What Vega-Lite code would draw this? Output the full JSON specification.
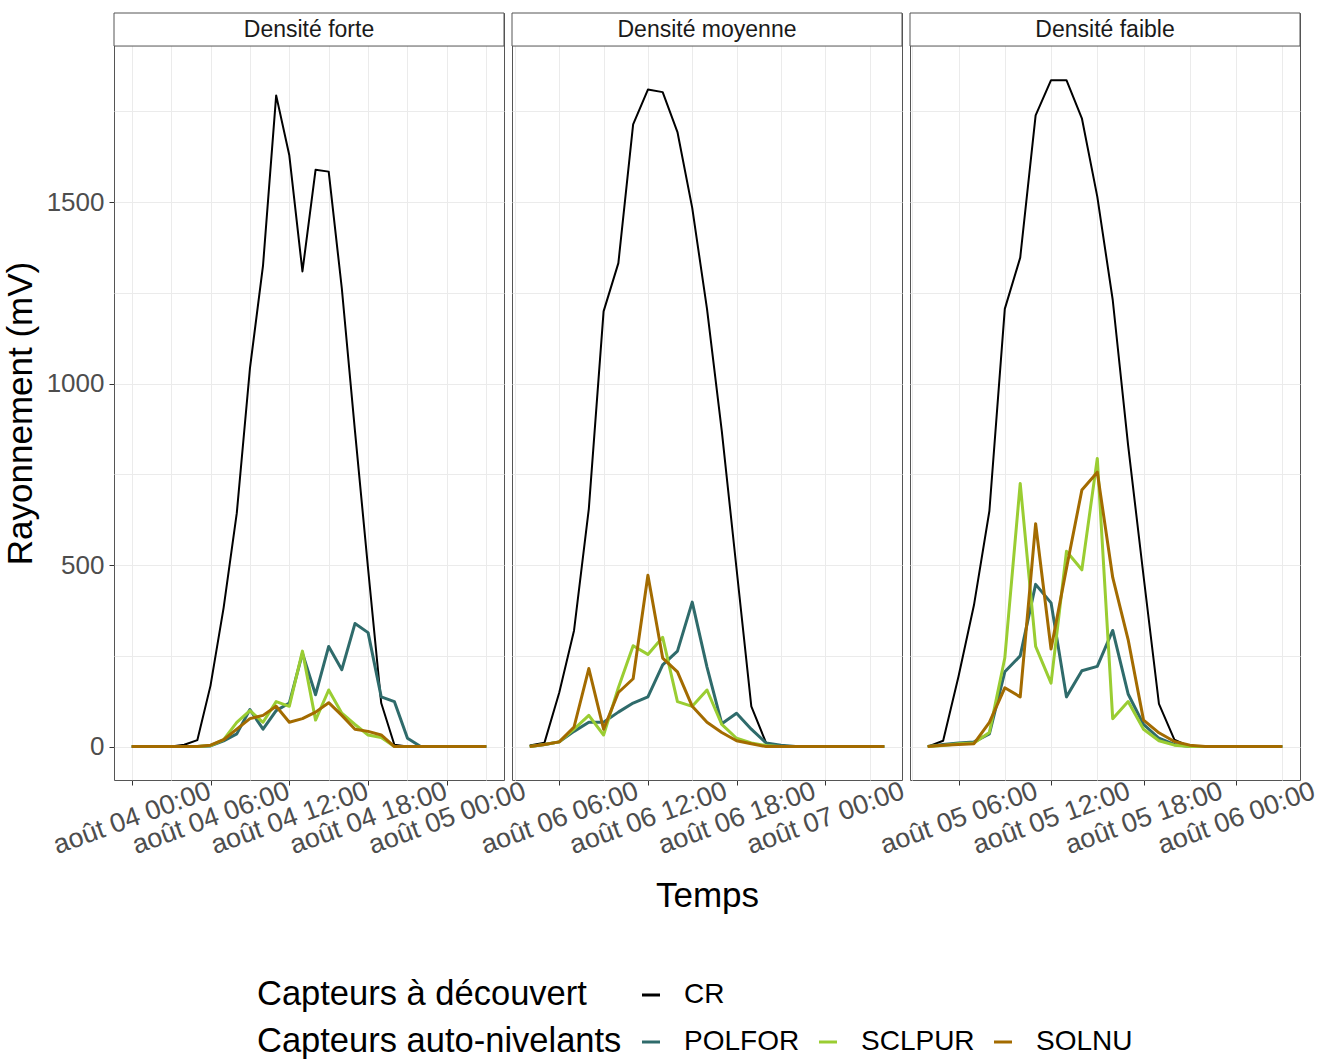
{
  "$schema": "https://vega.github.io/schema/vega-lite/v6.json",
  "background": "white",
  "padding": {"left": 2, "top": 12, "right": 10, "bottom": 4},
  "config": {
    "font": "Liberation Sans",
    "view": {"stroke": "#555555", "strokeWidth": 1},
    "legend": {
      "direction": "horizontal",
      "titleOrient": "left",
      "titleFontSize": 34.5,
      "titleFontWeight": "normal",
      "titleColor": "#000000",
      "titleLimit": 800,
      "labelFontSize": 28,
      "labelColor": "#000000",
      "symbolType": "stroke",
      "symbolStrokeWidth": 3,
      "symbolSize": 324,
      "labelOffset": 19,
      "columnPadding": 13
    }
  },
  "datasets": {
    "rad": [
      {"panel":"forte","time":"2022-08-04T00:00","capteur":"CR","value":0},
      {"panel":"forte","time":"2022-08-04T01:00","capteur":"CR","value":0},
      {"panel":"forte","time":"2022-08-04T02:00","capteur":"CR","value":0},
      {"panel":"forte","time":"2022-08-04T03:00","capteur":"CR","value":0},
      {"panel":"forte","time":"2022-08-04T04:00","capteur":"CR","value":5},
      {"panel":"forte","time":"2022-08-04T05:00","capteur":"CR","value":18},
      {"panel":"forte","time":"2022-08-04T06:00","capteur":"CR","value":168},
      {"panel":"forte","time":"2022-08-04T07:00","capteur":"CR","value":383},
      {"panel":"forte","time":"2022-08-04T08:00","capteur":"CR","value":643},
      {"panel":"forte","time":"2022-08-04T09:00","capteur":"CR","value":1041},
      {"panel":"forte","time":"2022-08-04T10:00","capteur":"CR","value":1326},
      {"panel":"forte","time":"2022-08-04T11:00","capteur":"CR","value":1794},
      {"panel":"forte","time":"2022-08-04T12:00","capteur":"CR","value":1629},
      {"panel":"forte","time":"2022-08-04T13:00","capteur":"CR","value":1309},
      {"panel":"forte","time":"2022-08-04T14:00","capteur":"CR","value":1589},
      {"panel":"forte","time":"2022-08-04T15:00","capteur":"CR","value":1584},
      {"panel":"forte","time":"2022-08-04T16:00","capteur":"CR","value":1262},
      {"panel":"forte","time":"2022-08-04T17:00","capteur":"CR","value":870},
      {"panel":"forte","time":"2022-08-04T18:00","capteur":"CR","value":490},
      {"panel":"forte","time":"2022-08-04T19:00","capteur":"CR","value":120},
      {"panel":"forte","time":"2022-08-04T20:00","capteur":"CR","value":5},
      {"panel":"forte","time":"2022-08-04T21:00","capteur":"CR","value":0},
      {"panel":"forte","time":"2022-08-04T22:00","capteur":"CR","value":0},
      {"panel":"forte","time":"2022-08-04T23:00","capteur":"CR","value":0},
      {"panel":"forte","time":"2022-08-05T00:00","capteur":"CR","value":0},
      {"panel":"forte","time":"2022-08-05T01:00","capteur":"CR","value":0},
      {"panel":"forte","time":"2022-08-05T02:00","capteur":"CR","value":0},
      {"panel":"forte","time":"2022-08-05T03:00","capteur":"CR","value":0},

      {"panel":"forte","time":"2022-08-04T00:00","capteur":"POLFOR","value":0},
      {"panel":"forte","time":"2022-08-04T01:00","capteur":"POLFOR","value":0},
      {"panel":"forte","time":"2022-08-04T02:00","capteur":"POLFOR","value":0},
      {"panel":"forte","time":"2022-08-04T03:00","capteur":"POLFOR","value":0},
      {"panel":"forte","time":"2022-08-04T04:00","capteur":"POLFOR","value":0},
      {"panel":"forte","time":"2022-08-04T05:00","capteur":"POLFOR","value":0},
      {"panel":"forte","time":"2022-08-04T06:00","capteur":"POLFOR","value":2},
      {"panel":"forte","time":"2022-08-04T07:00","capteur":"POLFOR","value":16},
      {"panel":"forte","time":"2022-08-04T08:00","capteur":"POLFOR","value":35},
      {"panel":"forte","time":"2022-08-04T09:00","capteur":"POLFOR","value":102},
      {"panel":"forte","time":"2022-08-04T10:00","capteur":"POLFOR","value":48},
      {"panel":"forte","time":"2022-08-04T11:00","capteur":"POLFOR","value":99},
      {"panel":"forte","time":"2022-08-04T12:00","capteur":"POLFOR","value":120},
      {"panel":"forte","time":"2022-08-04T13:00","capteur":"POLFOR","value":257},
      {"panel":"forte","time":"2022-08-04T14:00","capteur":"POLFOR","value":143},
      {"panel":"forte","time":"2022-08-04T15:00","capteur":"POLFOR","value":276},
      {"panel":"forte","time":"2022-08-04T16:00","capteur":"POLFOR","value":212},
      {"panel":"forte","time":"2022-08-04T17:00","capteur":"POLFOR","value":339},
      {"panel":"forte","time":"2022-08-04T18:00","capteur":"POLFOR","value":314},
      {"panel":"forte","time":"2022-08-04T19:00","capteur":"POLFOR","value":137},
      {"panel":"forte","time":"2022-08-04T20:00","capteur":"POLFOR","value":124},
      {"panel":"forte","time":"2022-08-04T21:00","capteur":"POLFOR","value":23},
      {"panel":"forte","time":"2022-08-04T22:00","capteur":"POLFOR","value":0},
      {"panel":"forte","time":"2022-08-04T23:00","capteur":"POLFOR","value":0},
      {"panel":"forte","time":"2022-08-05T00:00","capteur":"POLFOR","value":0},
      {"panel":"forte","time":"2022-08-05T01:00","capteur":"POLFOR","value":0},
      {"panel":"forte","time":"2022-08-05T02:00","capteur":"POLFOR","value":0},
      {"panel":"forte","time":"2022-08-05T03:00","capteur":"POLFOR","value":0},

      {"panel":"forte","time":"2022-08-04T00:00","capteur":"SCLPUR","value":0},
      {"panel":"forte","time":"2022-08-04T01:00","capteur":"SCLPUR","value":0},
      {"panel":"forte","time":"2022-08-04T02:00","capteur":"SCLPUR","value":0},
      {"panel":"forte","time":"2022-08-04T03:00","capteur":"SCLPUR","value":0},
      {"panel":"forte","time":"2022-08-04T04:00","capteur":"SCLPUR","value":0},
      {"panel":"forte","time":"2022-08-04T05:00","capteur":"SCLPUR","value":0},
      {"panel":"forte","time":"2022-08-04T06:00","capteur":"SCLPUR","value":3},
      {"panel":"forte","time":"2022-08-04T07:00","capteur":"SCLPUR","value":19},
      {"panel":"forte","time":"2022-08-04T08:00","capteur":"SCLPUR","value":67},
      {"panel":"forte","time":"2022-08-04T09:00","capteur":"SCLPUR","value":99},
      {"panel":"forte","time":"2022-08-04T10:00","capteur":"SCLPUR","value":67},
      {"panel":"forte","time":"2022-08-04T11:00","capteur":"SCLPUR","value":124},
      {"panel":"forte","time":"2022-08-04T12:00","capteur":"SCLPUR","value":111},
      {"panel":"forte","time":"2022-08-04T13:00","capteur":"SCLPUR","value":263},
      {"panel":"forte","time":"2022-08-04T14:00","capteur":"SCLPUR","value":73},
      {"panel":"forte","time":"2022-08-04T15:00","capteur":"SCLPUR","value":156},
      {"panel":"forte","time":"2022-08-04T16:00","capteur":"SCLPUR","value":92},
      {"panel":"forte","time":"2022-08-04T17:00","capteur":"SCLPUR","value":61},
      {"panel":"forte","time":"2022-08-04T18:00","capteur":"SCLPUR","value":32},
      {"panel":"forte","time":"2022-08-04T19:00","capteur":"SCLPUR","value":25},
      {"panel":"forte","time":"2022-08-04T20:00","capteur":"SCLPUR","value":0},
      {"panel":"forte","time":"2022-08-04T21:00","capteur":"SCLPUR","value":0},
      {"panel":"forte","time":"2022-08-04T22:00","capteur":"SCLPUR","value":0},
      {"panel":"forte","time":"2022-08-04T23:00","capteur":"SCLPUR","value":0},
      {"panel":"forte","time":"2022-08-05T00:00","capteur":"SCLPUR","value":0},
      {"panel":"forte","time":"2022-08-05T01:00","capteur":"SCLPUR","value":0},
      {"panel":"forte","time":"2022-08-05T02:00","capteur":"SCLPUR","value":0},
      {"panel":"forte","time":"2022-08-05T03:00","capteur":"SCLPUR","value":0},

      {"panel":"forte","time":"2022-08-04T00:00","capteur":"SOLNU","value":0},
      {"panel":"forte","time":"2022-08-04T01:00","capteur":"SOLNU","value":0},
      {"panel":"forte","time":"2022-08-04T02:00","capteur":"SOLNU","value":0},
      {"panel":"forte","time":"2022-08-04T03:00","capteur":"SOLNU","value":0},
      {"panel":"forte","time":"2022-08-04T04:00","capteur":"SOLNU","value":0},
      {"panel":"forte","time":"2022-08-04T05:00","capteur":"SOLNU","value":0},
      {"panel":"forte","time":"2022-08-04T06:00","capteur":"SOLNU","value":4},
      {"panel":"forte","time":"2022-08-04T07:00","capteur":"SOLNU","value":19},
      {"panel":"forte","time":"2022-08-04T08:00","capteur":"SOLNU","value":48},
      {"panel":"forte","time":"2022-08-04T09:00","capteur":"SOLNU","value":77},
      {"panel":"forte","time":"2022-08-04T10:00","capteur":"SOLNU","value":86},
      {"panel":"forte","time":"2022-08-04T11:00","capteur":"SOLNU","value":111},
      {"panel":"forte","time":"2022-08-04T12:00","capteur":"SOLNU","value":67},
      {"panel":"forte","time":"2022-08-04T13:00","capteur":"SOLNU","value":77},
      {"panel":"forte","time":"2022-08-04T14:00","capteur":"SOLNU","value":95},
      {"panel":"forte","time":"2022-08-04T15:00","capteur":"SOLNU","value":121},
      {"panel":"forte","time":"2022-08-04T16:00","capteur":"SOLNU","value":86},
      {"panel":"forte","time":"2022-08-04T17:00","capteur":"SOLNU","value":48},
      {"panel":"forte","time":"2022-08-04T18:00","capteur":"SOLNU","value":42},
      {"panel":"forte","time":"2022-08-04T19:00","capteur":"SOLNU","value":32},
      {"panel":"forte","time":"2022-08-04T20:00","capteur":"SOLNU","value":0},
      {"panel":"forte","time":"2022-08-04T21:00","capteur":"SOLNU","value":0},
      {"panel":"forte","time":"2022-08-04T22:00","capteur":"SOLNU","value":0},
      {"panel":"forte","time":"2022-08-04T23:00","capteur":"SOLNU","value":0},
      {"panel":"forte","time":"2022-08-05T00:00","capteur":"SOLNU","value":0},
      {"panel":"forte","time":"2022-08-05T01:00","capteur":"SOLNU","value":0},
      {"panel":"forte","time":"2022-08-05T02:00","capteur":"SOLNU","value":0},
      {"panel":"forte","time":"2022-08-05T03:00","capteur":"SOLNU","value":0},

      {"panel":"moyenne","time":"2022-08-06T04:00","capteur":"CR","value":3},
      {"panel":"moyenne","time":"2022-08-06T05:00","capteur":"CR","value":11},
      {"panel":"moyenne","time":"2022-08-06T06:00","capteur":"CR","value":149},
      {"panel":"moyenne","time":"2022-08-06T07:00","capteur":"CR","value":320},
      {"panel":"moyenne","time":"2022-08-06T08:00","capteur":"CR","value":655},
      {"panel":"moyenne","time":"2022-08-06T09:00","capteur":"CR","value":1199},
      {"panel":"moyenne","time":"2022-08-06T10:00","capteur":"CR","value":1332},
      {"panel":"moyenne","time":"2022-08-06T11:00","capteur":"CR","value":1714},
      {"panel":"moyenne","time":"2022-08-06T12:00","capteur":"CR","value":1810},
      {"panel":"moyenne","time":"2022-08-06T13:00","capteur":"CR","value":1803},
      {"panel":"moyenne","time":"2022-08-06T14:00","capteur":"CR","value":1693},
      {"panel":"moyenne","time":"2022-08-06T15:00","capteur":"CR","value":1484},
      {"panel":"moyenne","time":"2022-08-06T16:00","capteur":"CR","value":1206},
      {"panel":"moyenne","time":"2022-08-06T17:00","capteur":"CR","value":870},
      {"panel":"moyenne","time":"2022-08-06T18:00","capteur":"CR","value":490},
      {"panel":"moyenne","time":"2022-08-06T19:00","capteur":"CR","value":111},
      {"panel":"moyenne","time":"2022-08-06T20:00","capteur":"CR","value":10},
      {"panel":"moyenne","time":"2022-08-06T21:00","capteur":"CR","value":0},
      {"panel":"moyenne","time":"2022-08-06T22:00","capteur":"CR","value":0},
      {"panel":"moyenne","time":"2022-08-06T23:00","capteur":"CR","value":0},
      {"panel":"moyenne","time":"2022-08-07T00:00","capteur":"CR","value":0},
      {"panel":"moyenne","time":"2022-08-07T01:00","capteur":"CR","value":0},
      {"panel":"moyenne","time":"2022-08-07T02:00","capteur":"CR","value":0},
      {"panel":"moyenne","time":"2022-08-07T03:00","capteur":"CR","value":0},
      {"panel":"moyenne","time":"2022-08-07T04:00","capteur":"CR","value":0},

      {"panel":"moyenne","time":"2022-08-06T04:00","capteur":"POLFOR","value":0},
      {"panel":"moyenne","time":"2022-08-06T05:00","capteur":"POLFOR","value":6},
      {"panel":"moyenne","time":"2022-08-06T06:00","capteur":"POLFOR","value":13},
      {"panel":"moyenne","time":"2022-08-06T07:00","capteur":"POLFOR","value":42},
      {"panel":"moyenne","time":"2022-08-06T08:00","capteur":"POLFOR","value":67},
      {"panel":"moyenne","time":"2022-08-06T09:00","capteur":"POLFOR","value":67},
      {"panel":"moyenne","time":"2022-08-06T10:00","capteur":"POLFOR","value":95},
      {"panel":"moyenne","time":"2022-08-06T11:00","capteur":"POLFOR","value":120},
      {"panel":"moyenne","time":"2022-08-06T12:00","capteur":"POLFOR","value":137},
      {"panel":"moyenne","time":"2022-08-06T13:00","capteur":"POLFOR","value":225},
      {"panel":"moyenne","time":"2022-08-06T14:00","capteur":"POLFOR","value":263},
      {"panel":"moyenne","time":"2022-08-06T15:00","capteur":"POLFOR","value":398},
      {"panel":"moyenne","time":"2022-08-06T16:00","capteur":"POLFOR","value":219},
      {"panel":"moyenne","time":"2022-08-06T17:00","capteur":"POLFOR","value":63},
      {"panel":"moyenne","time":"2022-08-06T18:00","capteur":"POLFOR","value":92},
      {"panel":"moyenne","time":"2022-08-06T19:00","capteur":"POLFOR","value":48},
      {"panel":"moyenne","time":"2022-08-06T20:00","capteur":"POLFOR","value":10},
      {"panel":"moyenne","time":"2022-08-06T21:00","capteur":"POLFOR","value":4},
      {"panel":"moyenne","time":"2022-08-06T22:00","capteur":"POLFOR","value":0},
      {"panel":"moyenne","time":"2022-08-06T23:00","capteur":"POLFOR","value":0},
      {"panel":"moyenne","time":"2022-08-07T00:00","capteur":"POLFOR","value":0},
      {"panel":"moyenne","time":"2022-08-07T01:00","capteur":"POLFOR","value":0},
      {"panel":"moyenne","time":"2022-08-07T02:00","capteur":"POLFOR","value":0},
      {"panel":"moyenne","time":"2022-08-07T03:00","capteur":"POLFOR","value":0},
      {"panel":"moyenne","time":"2022-08-07T04:00","capteur":"POLFOR","value":0},

      {"panel":"moyenne","time":"2022-08-06T04:00","capteur":"SCLPUR","value":0},
      {"panel":"moyenne","time":"2022-08-06T05:00","capteur":"SCLPUR","value":6},
      {"panel":"moyenne","time":"2022-08-06T06:00","capteur":"SCLPUR","value":13},
      {"panel":"moyenne","time":"2022-08-06T07:00","capteur":"SCLPUR","value":48},
      {"panel":"moyenne","time":"2022-08-06T08:00","capteur":"SCLPUR","value":86},
      {"panel":"moyenne","time":"2022-08-06T09:00","capteur":"SCLPUR","value":32},
      {"panel":"moyenne","time":"2022-08-06T10:00","capteur":"SCLPUR","value":162},
      {"panel":"moyenne","time":"2022-08-06T11:00","capteur":"SCLPUR","value":278},
      {"panel":"moyenne","time":"2022-08-06T12:00","capteur":"SCLPUR","value":254},
      {"panel":"moyenne","time":"2022-08-06T13:00","capteur":"SCLPUR","value":301},
      {"panel":"moyenne","time":"2022-08-06T14:00","capteur":"SCLPUR","value":124},
      {"panel":"moyenne","time":"2022-08-06T15:00","capteur":"SCLPUR","value":111},
      {"panel":"moyenne","time":"2022-08-06T16:00","capteur":"SCLPUR","value":156},
      {"panel":"moyenne","time":"2022-08-06T17:00","capteur":"SCLPUR","value":61},
      {"panel":"moyenne","time":"2022-08-06T18:00","capteur":"SCLPUR","value":23},
      {"panel":"moyenne","time":"2022-08-06T19:00","capteur":"SCLPUR","value":10},
      {"panel":"moyenne","time":"2022-08-06T20:00","capteur":"SCLPUR","value":3},
      {"panel":"moyenne","time":"2022-08-06T21:00","capteur":"SCLPUR","value":0},
      {"panel":"moyenne","time":"2022-08-06T22:00","capteur":"SCLPUR","value":0},
      {"panel":"moyenne","time":"2022-08-06T23:00","capteur":"SCLPUR","value":0},
      {"panel":"moyenne","time":"2022-08-07T00:00","capteur":"SCLPUR","value":0},
      {"panel":"moyenne","time":"2022-08-07T01:00","capteur":"SCLPUR","value":0},
      {"panel":"moyenne","time":"2022-08-07T02:00","capteur":"SCLPUR","value":0},
      {"panel":"moyenne","time":"2022-08-07T03:00","capteur":"SCLPUR","value":0},
      {"panel":"moyenne","time":"2022-08-07T04:00","capteur":"SCLPUR","value":0},

      {"panel":"moyenne","time":"2022-08-06T04:00","capteur":"SOLNU","value":0},
      {"panel":"moyenne","time":"2022-08-06T05:00","capteur":"SOLNU","value":6},
      {"panel":"moyenne","time":"2022-08-06T06:00","capteur":"SOLNU","value":13},
      {"panel":"moyenne","time":"2022-08-06T07:00","capteur":"SOLNU","value":54},
      {"panel":"moyenne","time":"2022-08-06T08:00","capteur":"SOLNU","value":215},
      {"panel":"moyenne","time":"2022-08-06T09:00","capteur":"SOLNU","value":48},
      {"panel":"moyenne","time":"2022-08-06T10:00","capteur":"SOLNU","value":149},
      {"panel":"moyenne","time":"2022-08-06T11:00","capteur":"SOLNU","value":187},
      {"panel":"moyenne","time":"2022-08-06T12:00","capteur":"SOLNU","value":472},
      {"panel":"moyenne","time":"2022-08-06T13:00","capteur":"SOLNU","value":244},
      {"panel":"moyenne","time":"2022-08-06T14:00","capteur":"SOLNU","value":206},
      {"panel":"moyenne","time":"2022-08-06T15:00","capteur":"SOLNU","value":111},
      {"panel":"moyenne","time":"2022-08-06T16:00","capteur":"SOLNU","value":67},
      {"panel":"moyenne","time":"2022-08-06T17:00","capteur":"SOLNU","value":39},
      {"panel":"moyenne","time":"2022-08-06T18:00","capteur":"SOLNU","value":16},
      {"panel":"moyenne","time":"2022-08-06T19:00","capteur":"SOLNU","value":8},
      {"panel":"moyenne","time":"2022-08-06T20:00","capteur":"SOLNU","value":0},
      {"panel":"moyenne","time":"2022-08-06T21:00","capteur":"SOLNU","value":0},
      {"panel":"moyenne","time":"2022-08-06T22:00","capteur":"SOLNU","value":0},
      {"panel":"moyenne","time":"2022-08-06T23:00","capteur":"SOLNU","value":0},
      {"panel":"moyenne","time":"2022-08-07T00:00","capteur":"SOLNU","value":0},
      {"panel":"moyenne","time":"2022-08-07T01:00","capteur":"SOLNU","value":0},
      {"panel":"moyenne","time":"2022-08-07T02:00","capteur":"SOLNU","value":0},
      {"panel":"moyenne","time":"2022-08-07T03:00","capteur":"SOLNU","value":0},
      {"panel":"moyenne","time":"2022-08-07T04:00","capteur":"SOLNU","value":0},

      {"panel":"faible","time":"2022-08-05T04:00","capteur":"CR","value":0},
      {"panel":"faible","time":"2022-08-05T05:00","capteur":"CR","value":16},
      {"panel":"faible","time":"2022-08-05T06:00","capteur":"CR","value":194},
      {"panel":"faible","time":"2022-08-05T07:00","capteur":"CR","value":390},
      {"panel":"faible","time":"2022-08-05T08:00","capteur":"CR","value":649},
      {"panel":"faible","time":"2022-08-05T09:00","capteur":"CR","value":1206},
      {"panel":"faible","time":"2022-08-05T10:00","capteur":"CR","value":1347},
      {"panel":"faible","time":"2022-08-05T11:00","capteur":"CR","value":1739},
      {"panel":"faible","time":"2022-08-05T12:00","capteur":"CR","value":1836},
      {"panel":"faible","time":"2022-08-05T13:00","capteur":"CR","value":1836},
      {"panel":"faible","time":"2022-08-05T14:00","capteur":"CR","value":1731},
      {"panel":"faible","time":"2022-08-05T15:00","capteur":"CR","value":1515},
      {"panel":"faible","time":"2022-08-05T16:00","capteur":"CR","value":1231},
      {"panel":"faible","time":"2022-08-05T17:00","capteur":"CR","value":830},
      {"panel":"faible","time":"2022-08-05T18:00","capteur":"CR","value":470},
      {"panel":"faible","time":"2022-08-05T19:00","capteur":"CR","value":118},
      {"panel":"faible","time":"2022-08-05T20:00","capteur":"CR","value":19},
      {"panel":"faible","time":"2022-08-05T21:00","capteur":"CR","value":0},
      {"panel":"faible","time":"2022-08-05T22:00","capteur":"CR","value":0},
      {"panel":"faible","time":"2022-08-05T23:00","capteur":"CR","value":0},
      {"panel":"faible","time":"2022-08-06T00:00","capteur":"CR","value":0},
      {"panel":"faible","time":"2022-08-06T01:00","capteur":"CR","value":0},
      {"panel":"faible","time":"2022-08-06T02:00","capteur":"CR","value":0},
      {"panel":"faible","time":"2022-08-06T03:00","capteur":"CR","value":0},

      {"panel":"faible","time":"2022-08-05T04:00","capteur":"POLFOR","value":0},
      {"panel":"faible","time":"2022-08-05T05:00","capteur":"POLFOR","value":6},
      {"panel":"faible","time":"2022-08-05T06:00","capteur":"POLFOR","value":10},
      {"panel":"faible","time":"2022-08-05T07:00","capteur":"POLFOR","value":13},
      {"panel":"faible","time":"2022-08-05T08:00","capteur":"POLFOR","value":35},
      {"panel":"faible","time":"2022-08-05T09:00","capteur":"POLFOR","value":206},
      {"panel":"faible","time":"2022-08-05T10:00","capteur":"POLFOR","value":250},
      {"panel":"faible","time":"2022-08-05T11:00","capteur":"POLFOR","value":447},
      {"panel":"faible","time":"2022-08-05T12:00","capteur":"POLFOR","value":396},
      {"panel":"faible","time":"2022-08-05T13:00","capteur":"POLFOR","value":137},
      {"panel":"faible","time":"2022-08-05T14:00","capteur":"POLFOR","value":209},
      {"panel":"faible","time":"2022-08-05T15:00","capteur":"POLFOR","value":221},
      {"panel":"faible","time":"2022-08-05T16:00","capteur":"POLFOR","value":320},
      {"panel":"faible","time":"2022-08-05T17:00","capteur":"POLFOR","value":145},
      {"panel":"faible","time":"2022-08-05T18:00","capteur":"POLFOR","value":61},
      {"panel":"faible","time":"2022-08-05T19:00","capteur":"POLFOR","value":23},
      {"panel":"faible","time":"2022-08-05T20:00","capteur":"POLFOR","value":6},
      {"panel":"faible","time":"2022-08-05T21:00","capteur":"POLFOR","value":0},
      {"panel":"faible","time":"2022-08-05T22:00","capteur":"POLFOR","value":0},
      {"panel":"faible","time":"2022-08-05T23:00","capteur":"POLFOR","value":0},
      {"panel":"faible","time":"2022-08-06T00:00","capteur":"POLFOR","value":0},
      {"panel":"faible","time":"2022-08-06T01:00","capteur":"POLFOR","value":0},
      {"panel":"faible","time":"2022-08-06T02:00","capteur":"POLFOR","value":0},
      {"panel":"faible","time":"2022-08-06T03:00","capteur":"POLFOR","value":0},

      {"panel":"faible","time":"2022-08-05T04:00","capteur":"SCLPUR","value":0},
      {"panel":"faible","time":"2022-08-05T05:00","capteur":"SCLPUR","value":3},
      {"panel":"faible","time":"2022-08-05T06:00","capteur":"SCLPUR","value":8},
      {"panel":"faible","time":"2022-08-05T07:00","capteur":"SCLPUR","value":10},
      {"panel":"faible","time":"2022-08-05T08:00","capteur":"SCLPUR","value":39},
      {"panel":"faible","time":"2022-08-05T09:00","capteur":"SCLPUR","value":244},
      {"panel":"faible","time":"2022-08-05T10:00","capteur":"SCLPUR","value":725},
      {"panel":"faible","time":"2022-08-05T11:00","capteur":"SCLPUR","value":276},
      {"panel":"faible","time":"2022-08-05T12:00","capteur":"SCLPUR","value":175},
      {"panel":"faible","time":"2022-08-05T13:00","capteur":"SCLPUR","value":538},
      {"panel":"faible","time":"2022-08-05T14:00","capteur":"SCLPUR","value":487},
      {"panel":"faible","time":"2022-08-05T15:00","capteur":"SCLPUR","value":794},
      {"panel":"faible","time":"2022-08-05T16:00","capteur":"SCLPUR","value":77},
      {"panel":"faible","time":"2022-08-05T17:00","capteur":"SCLPUR","value":124},
      {"panel":"faible","time":"2022-08-05T18:00","capteur":"SCLPUR","value":48},
      {"panel":"faible","time":"2022-08-05T19:00","capteur":"SCLPUR","value":16},
      {"panel":"faible","time":"2022-08-05T20:00","capteur":"SCLPUR","value":4},
      {"panel":"faible","time":"2022-08-05T21:00","capteur":"SCLPUR","value":0},
      {"panel":"faible","time":"2022-08-05T22:00","capteur":"SCLPUR","value":0},
      {"panel":"faible","time":"2022-08-05T23:00","capteur":"SCLPUR","value":0},
      {"panel":"faible","time":"2022-08-06T00:00","capteur":"SCLPUR","value":0},
      {"panel":"faible","time":"2022-08-06T01:00","capteur":"SCLPUR","value":0},
      {"panel":"faible","time":"2022-08-06T02:00","capteur":"SCLPUR","value":0},
      {"panel":"faible","time":"2022-08-06T03:00","capteur":"SCLPUR","value":0},

      {"panel":"faible","time":"2022-08-05T04:00","capteur":"SOLNU","value":0},
      {"panel":"faible","time":"2022-08-05T05:00","capteur":"SOLNU","value":4},
      {"panel":"faible","time":"2022-08-05T06:00","capteur":"SOLNU","value":6},
      {"panel":"faible","time":"2022-08-05T07:00","capteur":"SOLNU","value":8},
      {"panel":"faible","time":"2022-08-05T08:00","capteur":"SOLNU","value":67},
      {"panel":"faible","time":"2022-08-05T09:00","capteur":"SOLNU","value":162},
      {"panel":"faible","time":"2022-08-05T10:00","capteur":"SOLNU","value":137},
      {"panel":"faible","time":"2022-08-05T11:00","capteur":"SOLNU","value":614},
      {"panel":"faible","time":"2022-08-05T12:00","capteur":"SOLNU","value":269},
      {"panel":"faible","time":"2022-08-05T13:00","capteur":"SOLNU","value":491},
      {"panel":"faible","time":"2022-08-05T14:00","capteur":"SOLNU","value":707},
      {"panel":"faible","time":"2022-08-05T15:00","capteur":"SOLNU","value":756},
      {"panel":"faible","time":"2022-08-05T16:00","capteur":"SOLNU","value":466},
      {"panel":"faible","time":"2022-08-05T17:00","capteur":"SOLNU","value":295},
      {"panel":"faible","time":"2022-08-05T18:00","capteur":"SOLNU","value":73},
      {"panel":"faible","time":"2022-08-05T19:00","capteur":"SOLNU","value":38},
      {"panel":"faible","time":"2022-08-05T20:00","capteur":"SOLNU","value":14},
      {"panel":"faible","time":"2022-08-05T21:00","capteur":"SOLNU","value":4},
      {"panel":"faible","time":"2022-08-05T22:00","capteur":"SOLNU","value":0},
      {"panel":"faible","time":"2022-08-05T23:00","capteur":"SOLNU","value":0},
      {"panel":"faible","time":"2022-08-06T00:00","capteur":"SOLNU","value":0},
      {"panel":"faible","time":"2022-08-06T01:00","capteur":"SOLNU","value":0},
      {"panel":"faible","time":"2022-08-06T02:00","capteur":"SOLNU","value":0},
      {"panel":"faible","time":"2022-08-06T03:00","capteur":"SOLNU","value":0}
    ]
  },
  "bounds": "flush",
  "spacing": 8,
  "hconcat": [
    {
      "width": 390, "height": 767,
      "layer": [
        {"data": {"name": "rad"},
         "transform": [{"filter": "datum.panel == 'forte' && datum.capteur == 'CR'"}],
         "mark": {"type": "line", "strokeWidth": 2, "strokeJoin": "round"},
         "encoding": {
           "x": {"field": "time", "type": "temporal",
             "scale": {"domain": [
               {"year": 2022, "month": 8, "date": 3, "hours": 22, "minutes": 39},
               {"year": 2022, "month": 8, "date": 5, "hours": 4, "minutes": 21}]},
             "axis": {"title": null,
               "values": [
                 {"year": 2022, "month": 8, "date": 4, "hours": 0},
                 {"year": 2022, "month": 8, "date": 4, "hours": 3},
                 {"year": 2022, "month": 8, "date": 4, "hours": 6},
                 {"year": 2022, "month": 8, "date": 4, "hours": 9},
                 {"year": 2022, "month": 8, "date": 4, "hours": 12},
                 {"year": 2022, "month": 8, "date": 4, "hours": 15},
                 {"year": 2022, "month": 8, "date": 4, "hours": 18},
                 {"year": 2022, "month": 8, "date": 4, "hours": 21},
                 {"year": 2022, "month": 8, "date": 5, "hours": 0},
                 {"year": 2022, "month": 8, "date": 5, "hours": 3}],
               "labelExpr": "hours(datum.value) % 6 == 0 ? 'août ' + timeFormat(datum.value, '%d %H:%M') : ''",
               "labelAngle": -20, "labelAlign": "center", "labelBaseline": "middle", "labelPadding": 33,
               "labelFontSize": 27, "labelColor": "#4D4D4D", "labelOverlap": false, "labelFlush": false, "labelBound": false,
               "domain": false, "tickSize": 5, "tickColor": "#333333",
               "tickOpacity": {"condition": {"test": "hours(datum.value) % 6 != 0", "value": 0}, "value": 1},
               "grid": true, "gridColor": "#EBEBEB", "gridWidth": 1}},
           "y": {"field": "value", "type": "quantitative",
             "scale": {"domain": [-92, 2021], "nice": false, "zero": false},
             "axis": {"title": "Rayonnement (mV)", "values": [0, 250, 500, 750, 1000, 1250, 1500, 1750],
               "labelExpr": "datum.value % 500 == 0 ? '' + datum.value : ''",
               "labelFontSize": 26, "labelColor": "#4D4D4D", "labelPadding": 5,
               "tickSize": 5, "tickColor": "#333333",
               "tickOpacity": {"condition": {"test": "datum.value % 500 != 0", "value": 0}, "value": 1},
               "domain": false, "grid": true, "gridColor": "#EBEBEB", "gridWidth": 1,
               "titleFontSize": 35, "titleFontWeight": "normal", "titleColor": "#000000", "titlePadding": 8, "titleY": 400}},
           "stroke": {"field": "capteur", "type": "nominal",
             "scale": {"domain": ["CR"], "range": ["#000000"]},
             "legend": {"title": "Capteurs à découvert", "orient": "none", "legendX": 143, "legendY": 968, "titlePadding": 50}}}},
        {"data": {"name": "rad"},
         "transform": [{"filter": "datum.panel == 'forte' && datum.capteur != 'CR'"}],
         "mark": {"type": "line", "strokeWidth": 3, "strokeJoin": "round"},
         "encoding": {
           "x": {"field": "time", "type": "temporal", "title": null},
           "y": {"field": "value", "type": "quantitative", "title": "Rayonnement (mV)"},
           "color": {"field": "capteur", "type": "nominal",
             "scale": {"domain": ["POLFOR", "SCLPUR", "SOLNU"], "range": ["#2F6B6B", "#9ACD32", "#A36B00"]},
             "legend": {"title": "Capteurs auto-nivelants", "orient": "none", "legendX": 143, "legendY": 1015, "titlePadding": 15}}}},
        {"data": {"values": [{"strip": "Densité forte"}]},
         "mark": {"type": "rect", "fill": "#FFFFFF", "stroke": "#555555", "strokeWidth": 1},
         "encoding": {"y": {"datum": 1930, "type": "quantitative", "title": "Rayonnement (mV)"}, "y2": {"datum": 2021}}},
        {"data": {"values": [{"strip": "Densité forte"}]},
         "mark": {"type": "text", "fontSize": 23, "color": "#1A1A1A"},
         "encoding": {"y": {"datum": 1975.5, "type": "quantitative", "title": "Rayonnement (mV)"}, "text": {"field": "strip", "type": "nominal"}}}
      ]
    },
    {
      "width": 390, "height": 767,
      "layer": [
        {"data": {"name": "rad"},
         "transform": [{"filter": "datum.panel == 'moyenne' && datum.capteur == 'CR'"}],
         "mark": {"type": "line", "strokeWidth": 2, "strokeJoin": "round"},
         "encoding": {
           "x": {"field": "time", "type": "temporal",
             "scale": {"domain": [
               {"year": 2022, "month": 8, "date": 6, "hours": 2, "minutes": 48},
               {"year": 2022, "month": 8, "date": 7, "hours": 5, "minutes": 12}]},
             "axis": {"title": "Temps",
               "values": [
                 {"year": 2022, "month": 8, "date": 6, "hours": 3},
                 {"year": 2022, "month": 8, "date": 6, "hours": 6},
                 {"year": 2022, "month": 8, "date": 6, "hours": 9},
                 {"year": 2022, "month": 8, "date": 6, "hours": 12},
                 {"year": 2022, "month": 8, "date": 6, "hours": 15},
                 {"year": 2022, "month": 8, "date": 6, "hours": 18},
                 {"year": 2022, "month": 8, "date": 6, "hours": 21},
                 {"year": 2022, "month": 8, "date": 7, "hours": 0},
                 {"year": 2022, "month": 8, "date": 7, "hours": 3}],
               "labelExpr": "hours(datum.value) % 6 == 0 ? 'août ' + timeFormat(datum.value, '%d %H:%M') : ''",
               "labelAngle": -20, "labelAlign": "center", "labelBaseline": "middle", "labelPadding": 33,
               "labelFontSize": 27, "labelColor": "#4D4D4D", "labelOverlap": false, "labelFlush": false, "labelBound": false,
               "domain": false, "tickSize": 5, "tickColor": "#333333",
               "tickOpacity": {"condition": {"test": "hours(datum.value) % 6 != 0", "value": 0}, "value": 1},
               "grid": true, "gridColor": "#EBEBEB", "gridWidth": 1,
               "titleFontSize": 35, "titleFontWeight": "normal", "titleColor": "#000000", "titlePadding": 20}},
           "y": {"field": "value", "type": "quantitative",
             "scale": {"domain": [-92, 2021], "nice": false, "zero": false},
             "axis": {"title": null, "values": [0, 250, 500, 750, 1000, 1250, 1500, 1750],
               "labels": false, "ticks": false, "domain": false, "grid": true, "gridColor": "#EBEBEB", "gridWidth": 1}},
           "stroke": {"field": "capteur", "type": "nominal",
             "scale": {"domain": ["CR"], "range": ["#000000"]},
             "legend": {"title": "Capteurs à découvert", "orient": "none", "legendX": 143, "legendY": 968, "titlePadding": 50}}}},
        {"data": {"name": "rad"},
         "transform": [{"filter": "datum.panel == 'moyenne' && datum.capteur != 'CR'"}],
         "mark": {"type": "line", "strokeWidth": 3, "strokeJoin": "round"},
         "encoding": {
           "x": {"field": "time", "type": "temporal", "title": "Temps"},
           "y": {"field": "value", "type": "quantitative", "title": null},
           "color": {"field": "capteur", "type": "nominal",
             "scale": {"domain": ["POLFOR", "SCLPUR", "SOLNU"], "range": ["#2F6B6B", "#9ACD32", "#A36B00"]},
             "legend": {"title": "Capteurs auto-nivelants", "orient": "none", "legendX": 143, "legendY": 1015, "titlePadding": 15}}}},
        {"data": {"values": [{"strip": "Densité moyenne"}]},
         "mark": {"type": "rect", "fill": "#FFFFFF", "stroke": "#555555", "strokeWidth": 1},
         "encoding": {"y": {"datum": 1930, "type": "quantitative", "title": null}, "y2": {"datum": 2021}}},
        {"data": {"values": [{"strip": "Densité moyenne"}]},
         "mark": {"type": "text", "fontSize": 23, "color": "#1A1A1A"},
         "encoding": {"y": {"datum": 1975.5, "type": "quantitative", "title": null}, "text": {"field": "strip", "type": "nominal"}}}
      ]
    },
    {
      "width": 390, "height": 767,
      "layer": [
        {"data": {"name": "rad"},
         "transform": [{"filter": "datum.panel == 'faible' && datum.capteur == 'CR'"}],
         "mark": {"type": "line", "strokeWidth": 2, "strokeJoin": "round"},
         "encoding": {
           "x": {"field": "time", "type": "temporal",
             "scale": {"domain": [
               {"year": 2022, "month": 8, "date": 5, "hours": 2, "minutes": 51},
               {"year": 2022, "month": 8, "date": 6, "hours": 4, "minutes": 9}]},
             "axis": {"title": null,
               "values": [
                 {"year": 2022, "month": 8, "date": 5, "hours": 3},
                 {"year": 2022, "month": 8, "date": 5, "hours": 6},
                 {"year": 2022, "month": 8, "date": 5, "hours": 9},
                 {"year": 2022, "month": 8, "date": 5, "hours": 12},
                 {"year": 2022, "month": 8, "date": 5, "hours": 15},
                 {"year": 2022, "month": 8, "date": 5, "hours": 18},
                 {"year": 2022, "month": 8, "date": 5, "hours": 21},
                 {"year": 2022, "month": 8, "date": 6, "hours": 0},
                 {"year": 2022, "month": 8, "date": 6, "hours": 3}],
               "labelExpr": "hours(datum.value) % 6 == 0 ? 'août ' + timeFormat(datum.value, '%d %H:%M') : ''",
               "labelAngle": -20, "labelAlign": "center", "labelBaseline": "middle", "labelPadding": 33,
               "labelFontSize": 27, "labelColor": "#4D4D4D", "labelOverlap": false, "labelFlush": false, "labelBound": false,
               "domain": false, "tickSize": 5, "tickColor": "#333333",
               "tickOpacity": {"condition": {"test": "hours(datum.value) % 6 != 0", "value": 0}, "value": 1},
               "grid": true, "gridColor": "#EBEBEB", "gridWidth": 1}},
           "y": {"field": "value", "type": "quantitative",
             "scale": {"domain": [-92, 2021], "nice": false, "zero": false},
             "axis": {"title": null, "values": [0, 250, 500, 750, 1000, 1250, 1500, 1750],
               "labels": false, "ticks": false, "domain": false, "grid": true, "gridColor": "#EBEBEB", "gridWidth": 1}},
           "stroke": {"field": "capteur", "type": "nominal",
             "scale": {"domain": ["CR"], "range": ["#000000"]},
             "legend": {"title": "Capteurs à découvert", "orient": "none", "legendX": 143, "legendY": 968, "titlePadding": 50}}}},
        {"data": {"name": "rad"},
         "transform": [{"filter": "datum.panel == 'faible' && datum.capteur != 'CR'"}],
         "mark": {"type": "line", "strokeWidth": 3, "strokeJoin": "round"},
         "encoding": {
           "x": {"field": "time", "type": "temporal", "title": null},
           "y": {"field": "value", "type": "quantitative", "title": null},
           "color": {"field": "capteur", "type": "nominal",
             "scale": {"domain": ["POLFOR", "SCLPUR", "SOLNU"], "range": ["#2F6B6B", "#9ACD32", "#A36B00"]},
             "legend": {"title": "Capteurs auto-nivelants", "orient": "none", "legendX": 143, "legendY": 1015, "titlePadding": 15}}}},
        {"data": {"values": [{"strip": "Densité faible"}]},
         "mark": {"type": "rect", "fill": "#FFFFFF", "stroke": "#555555", "strokeWidth": 1},
         "encoding": {"y": {"datum": 1930, "type": "quantitative", "title": null}, "y2": {"datum": 2021}}},
        {"data": {"values": [{"strip": "Densité faible"}]},
         "mark": {"type": "text", "fontSize": 23, "color": "#1A1A1A"},
         "encoding": {"y": {"datum": 1975.5, "type": "quantitative", "title": null}, "text": {"field": "strip", "type": "nominal"}}}
      ]
    }
  ]
}
